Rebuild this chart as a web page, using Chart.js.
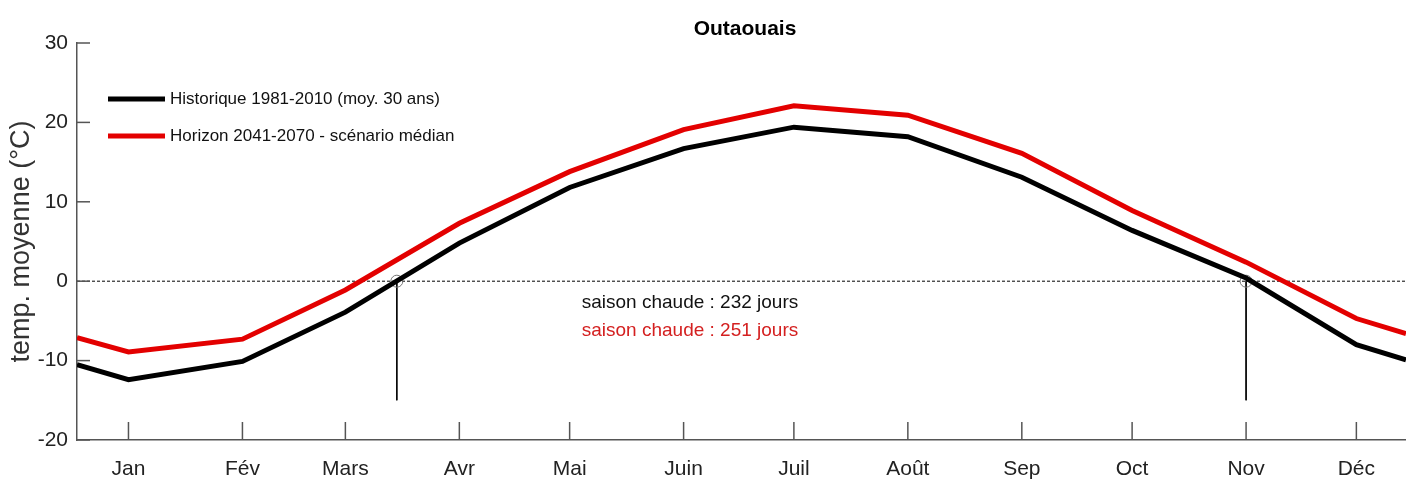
<!DOCTYPE html>
<html>
<head>
<meta charset="utf-8">
<script src="https://cdn.jsdelivr.net/npm/chart.js@4"></script>
<style>
  body { margin: 0; background: #fff; overflow: hidden; }
  canvas { display: block; }
</style>
</head>
<body>
<canvas id="chart" width="1413" height="481"></canvas>
<script>
const monthLabels = ['Jan', 'Fév', 'Mars', 'Avr', 'Mai', 'Juin', 'Juil', 'Août', 'Sep', 'Oct', 'Nov', 'Déc'];
const monthDays = [15, 46, 74, 105, 135, 166, 196, 227, 258, 288, 319, 349];
const historique = [-12.4, -10.1, -3.9, 4.8, 11.8, 16.7, 19.4, 18.2, 13.1, 6.4, 0.4, -8.0];
const horizon = [-8.9, -7.3, -1.1, 7.3, 13.8, 19.1, 22.1, 20.9, 16.1, 8.9, 2.4, -4.7];
// values where the curves meet the left / right plot edges
const edgeDays = [1, 362.5];
const historiqueEdges = [-10.5, -9.9];
const horizonEdges = [-7.1, -6.6];
const saisonDays = [88, 319];
const yTicks = [-20, -10, 0, 10, 20, 30];

const font = "'Liberation Sans', Arial, sans-serif";
Chart.defaults.font.family = font;

function series(values, edges) {
    const pts = monthDays.map((d, i) => ({ x: d, y: values[i] }));
    return [{ x: edgeDays[0], y: edges[0] }, ...pts, { x: edgeDays[1], y: edges[1] }];
}

function marker(day) {
    return {
        label: '',
        data: [{ x: day, y: 0 }, { x: day, y: -15 }],
        borderColor: '#000',
        borderWidth: 1,
        pointRadius: [6, 0],
        pointBorderColor: '#777',
        pointBorderWidth: 1,
        pointBackgroundColor: 'rgba(0,0,0,0)',
        tension: 0
    };
}

const extras = {
    id: 'extras',
    beforeDatasetsDraw(chart) {
        const { ctx, chartArea: a, scales: { x, y } } = chart;
        ctx.save();
        // zero line
        ctx.strokeStyle = '#000';
        ctx.lineWidth = 1;
        ctx.setLineDash([3, 2]);
        ctx.beginPath();
        ctx.moveTo(a.left, y.getPixelForValue(0));
        ctx.lineTo(a.right, y.getPixelForValue(0));
        ctx.stroke();
        ctx.setLineDash([]);
        // inward ticks
        ctx.strokeStyle = '#555';
        ctx.lineWidth = 1.5;
        monthDays.forEach(d => {
            const px = x.getPixelForValue(d);
            ctx.beginPath();
            ctx.moveTo(px, a.bottom);
            ctx.lineTo(px, a.bottom - 18);
            ctx.stroke();
        });
        yTicks.forEach(v => {
            const py = y.getPixelForValue(v);
            ctx.beginPath();
            ctx.moveTo(a.left, py);
            ctx.lineTo(a.left + 13, py);
            ctx.stroke();
        });
        ctx.restore();
    },
    afterDraw(chart) {
        const { ctx, chartArea: a } = chart;
        ctx.save();
        // title
        ctx.fillStyle = '#000';
        ctx.font = 'bold 21px ' + font;
        ctx.textAlign = 'center';
        ctx.textBaseline = 'middle';
        ctx.fillText('Outaouais', 745, 29);
        // y title
        ctx.save();
        ctx.translate(22, (a.top + a.bottom) / 2);
        ctx.rotate(-Math.PI / 2);
        ctx.fillStyle = '#333';
        ctx.font = '27px ' + font;
        ctx.fillText('temp. moyenne (°C)', 0, 0);
        ctx.restore();
        // legend
        ctx.font = '17px ' + font;
        ctx.textAlign = 'left';
        const rows = chart.data.datasets.slice(0, 2);
        rows.forEach((ds, i) => {
            const ly = 99 + i * 37;
            ctx.strokeStyle = ds.borderColor;
            ctx.lineWidth = 5;
            ctx.beginPath();
            ctx.moveTo(108, ly);
            ctx.lineTo(165, ly);
            ctx.stroke();
            ctx.fillStyle = '#111';
            ctx.fillText(ds.label, 170, ly);
        });
        // season notes
        ctx.font = '19px ' + font;
        ctx.textAlign = 'center';
        ctx.fillStyle = '#111';
        ctx.fillText('saison chaude : 232 jours', 690, 303);
        ctx.fillStyle = '#d42020';
        ctx.fillText('saison chaude : 251 jours', 690, 331);
        ctx.restore();
    }
};

new Chart(document.getElementById('chart').getContext('2d'), {
    type: 'line',
    data: {
        datasets: [
            {
                label: 'Historique 1981-2010 (moy. 30 ans)',
                data: series(historique, historiqueEdges),
                borderColor: '#000',
                borderWidth: 5,
                pointRadius: 0,
                tension: 0
            },
            {
                label: 'Horizon 2041-2070 - scénario médian',
                data: series(horizon, horizonEdges),
                borderColor: '#e30000',
                borderWidth: 5,
                pointRadius: 0,
                tension: 0
            },
            marker(saisonDays[0]),
            marker(saisonDays[1])
        ]
    },
    options: {
        responsive: false,
        animation: false,
        layout: { padding: { top: 43, left: 0, right: 0, bottom: 0 } },
        plugins: { legend: { display: false }, tooltip: { enabled: false } },
        scales: {
            x: {
                type: 'linear',
                min: edgeDays[0],
                max: edgeDays[1],
                afterBuildTicks: s => { s.ticks = monthDays.map(v => ({ value: v })); },
                afterFit: s => { s.height = 41; },
                grid: { display: false, drawTicks: false },
                border: { display: true, color: '#555', width: 1.5 },
                ticks: {
                    autoSkip: false,
                    maxRotation: 0,
                    padding: 17,
                    color: '#222',
                    font: { size: 21 },
                    callback: v => monthLabels[monthDays.indexOf(v)]
                }
            },
            y: {
                min: -20,
                max: 30,
                afterBuildTicks: s => { s.ticks = yTicks.map(v => ({ value: v })); },
                afterFit: s => { s.width = 77; },
                grid: { display: false, drawTicks: false },
                border: { display: true, color: '#555', width: 1.5 },
                ticks: { padding: 9, color: '#222', font: { size: 21 } }
            }
        }
    },
    plugins: [extras]
});
</script>
</body>
</html>
